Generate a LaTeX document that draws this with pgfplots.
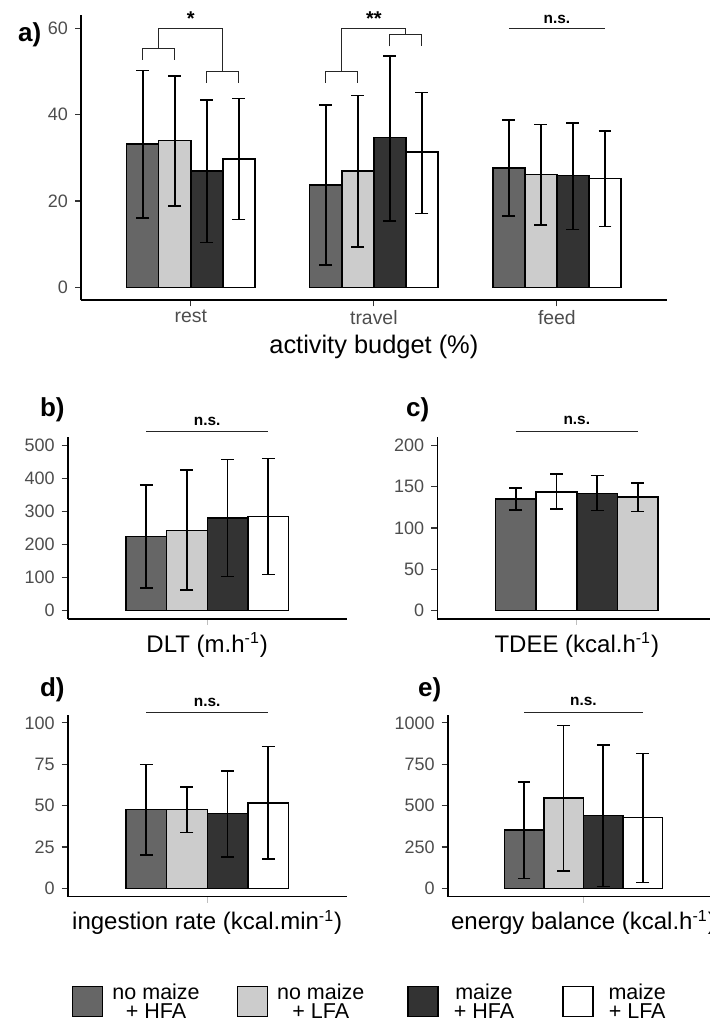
\documentclass[border=0pt]{standalone}
\usepackage{fontspec}
\setmainfont{Liberation Sans}
\usepackage{pgfplots}
\pgfplotsset{compat=1.18}
\usepackage{pgfplotstable}

\definecolor{cA}{HTML}{666666}
\definecolor{cB}{HTML}{CCCCCC}
\definecolor{cC}{HTML}{333333}
\definecolor{cD}{HTML}{FFFFFF}
\definecolor{tickgray}{HTML}{4D4D4D}

% ---------- panel a: activity budget ----------
\pgfplotstableread{
x y ep em
0.7375 33.2 17.0 17.2
1.7375 23.7 18.5 18.5
2.7375 27.6 11.1 11.1
}\aA
\pgfplotstableread{
x y ep em
0.9125 34.0 15.0 15.2
1.9125 26.9 17.5 17.6
2.9125 26.2 11.5 11.8
}\aB
\pgfplotstableread{
x y ep em
1.0875 26.9 16.5 16.5
2.0875 34.7 18.9 19.3
3.0875 25.9 12.2 12.5
}\aC
\pgfplotstableread{
x y ep em
1.2625 29.7 14.0 14.0
2.2625 31.3 13.8 14.2
3.2625 25.2 11.0 11.1
}\aD
% ---------- panel b: DLT ----------
\pgfplotstableread{
x y ep em
0.7375 223.6 156 155
}\bA
\pgfplotstableread{
x y ep em
0.9125 242.7 182 180
}\bB
\pgfplotstableread{
x y ep em
1.0875 280.0 177 176
}\bC
\pgfplotstableread{
x y ep em
1.2625 285.0 175 175
}\bD
% ---------- panel c: TDEE (bar order as in the figure) ----------
\pgfplotstableread{
x y ep em
0.7375 135.1 12.9 13.7
}\cA
\pgfplotstableread{
x y ep em
0.9125 143.5 21.8 20.9
}\cD
\pgfplotstableread{
x y ep em
1.0875 141.5 21.8 20.5
}\cC
\pgfplotstableread{
x y ep em
1.2625 137.5 16.9 17.7
}\cB
% ---------- panel d: ingestion rate ----------
\pgfplotstableread{
x y ep em
0.7375 47.6 27.3 27.4
}\dA
\pgfplotstableread{
x y ep em
0.9125 47.6 13.5 13.8
}\dB
\pgfplotstableread{
x y ep em
1.0875 45.1 25.8 26.3
}\dC
\pgfplotstableread{
x y ep em
1.2625 51.6 34.2 33.8
}\dD
% ---------- panel e: energy balance ----------
\pgfplotstableread{
x y ep em
0.7375 352.0 289.7 293.3
}\eA
\pgfplotstableread{
x y ep em
0.9125 546.6 437.2 441.3
}\eB
\pgfplotstableread{
x y ep em
1.0875 439.3 427.1 427.2
}\eC
\pgfplotstableread{
x y ep em
1.2625 427.1 386.7 390.7
}\eD

\pgfplotsset{
  common/.style={
    scale only axis,
    axis x line*=bottom, axis y line*=left,
    axis line style={line width=0.8pt, black},
    tick align=outside, major tick length=3pt,
    tick style={line width=0.6pt, color=cC},
    yticklabel style={font=\fontsize{9}{10}\selectfont, text=tickgray},
    /pgf/number format/assume math mode=true,
    /pgf/number format/1000 sep={},
    bar width=0.175,
    clip=false,
    xmin=0.4, xmax=1.6,
    error bars/y dir=both, error bars/y explicit,
    error bars/error bar style={line width=0.8pt, black},
    error bars/error mark options={rotate=90, line width=0.8pt, black, mark size=3.2pt},
    xlabel style={font=\fontsize{12}{14}\selectfont, at={(axis description cs:0.5,0)}, anchor=base, yshift=-16.6pt},
  },
  small/.style={common, width=139.5pt, height=91pt, xtick={1}, xticklabels={}, xtick style={color=black!25}},
  barA/.style={ybar, fill=cA, draw=black, line width=0.7pt},
  barB/.style={ybar, fill=cB, draw=black, line width=0.7pt},
  barC/.style={ybar, fill=cC, draw=black, line width=0.7pt},
  barD/.style={ybar, fill=cD, draw=black, line width=0.7pt},
}
\tikzset{
  br/.style={line width=0.5pt, black!85},
  ns/.style={font=\bfseries\fontsize{7.7}{9}\selectfont, anchor=base},
  pl/.style={anchor=base west, font=\bfseries\fontsize{13}{15}\selectfont},
}
\newcommand{\ent}[2]{\raisebox{4pt}{\begin{tabular}{@{}c@{}}#1\\[-2.5pt]#2\end{tabular}}}

\begin{document}
\begin{tikzpicture}
\useasboundingbox (0,0) rectangle (354.5pt,511.5pt);

% ---------------- a ----------------
\begin{axis}[common, at={(40.5pt,361.35pt)}, anchor=south west,
  width=292.85pt, height=142.5pt,
  xmin=0.4, xmax=3.6, ymin=-3, ymax=63,
  xtick={1,2,3}, xticklabels={rest,travel,feed},
  ytick={0,20,40,60},
  xticklabel style={font=\fontsize{9.7}{11}\selectfont, text=tickgray, yshift=1.5pt},
  xlabel={activity budget (\%)},
  xlabel style={font=\fontsize{12.7}{14}\selectfont, yshift=-10pt},
]
\addplot[barA] table[x=x, y=y, y error plus=ep, y error minus=em]{\aA};
\addplot[barB] table[x=x, y=y, y error plus=ep, y error minus=em]{\aB};
\addplot[barC] table[x=x, y=y, y error plus=ep, y error minus=em]{\aC};
\addplot[barD] table[x=x, y=y, y error plus=ep, y error minus=em]{\aD};
% rest
\draw[br] (axis cs:0.7375,52.65) -- (axis cs:0.7375,55.4) -- (axis cs:0.9125,55.4) -- (axis cs:0.9125,52.65);
\draw[br] (axis cs:1.0875,47.4) -- (axis cs:1.0875,50) -- (axis cs:1.2625,50) -- (axis cs:1.2625,47.4);
\draw[br] (axis cs:0.825,55.4) -- (axis cs:0.825,60) -- (axis cs:1.175,60) -- (axis cs:1.175,50);
\node[font=\bfseries\fontsize{10}{12}\selectfont, anchor=base, yshift=1.2pt] at (axis cs:1,60) {*};
% travel
\draw[br] (axis cs:1.7375,47.4) -- (axis cs:1.7375,50) -- (axis cs:1.9125,50) -- (axis cs:1.9125,47.4);
\draw[br] (axis cs:2.0875,55.8) -- (axis cs:2.0875,58.5) -- (axis cs:2.2625,58.5) -- (axis cs:2.2625,55.8);
\draw[br] (axis cs:1.825,50) -- (axis cs:1.825,60) -- (axis cs:2.175,60) -- (axis cs:2.175,58.5);
\node[font=\bfseries\fontsize{10}{12}\selectfont, anchor=base, yshift=1.2pt] at (axis cs:2,60) {**};
% feed
\draw[br] (axis cs:2.7375,60) -- (axis cs:3.2625,60);
\node[ns, yshift=2.5pt] at (axis cs:3,60) {n.s.};
\end{axis}

% ---------------- b ----------------
\begin{axis}[small, at={(33.85pt,202pt)}, anchor=south west,
  ymin=-25, ymax=525, ytick={0,100,...,500},
  xlabel={DLT (m.h\textsuperscript{-1})}]
\addplot[barA] table[x=x, y=y, y error plus=ep, y error minus=em]{\bA};
\addplot[barB] table[x=x, y=y, y error plus=ep, y error minus=em]{\bB};
\addplot[barC] table[x=x, y=y, y error plus=ep, y error minus=em]{\bC};
\addplot[barD] table[x=x, y=y, y error plus=ep, y error minus=em]{\bD};
\draw[br] (axis cs:0.7375,540.8) -- (axis cs:1.2625,540.8);
\node[ns, yshift=3.3pt] at (axis cs:1,540.8) {n.s.};
\end{axis}

% ---------------- c ----------------
\begin{axis}[small, at={(218.65pt,202pt)}, anchor=south west,
  ymin=-10, ymax=210, ytick={0,50,...,200},
  xlabel={TDEE (kcal.h\textsuperscript{-1})}]
\addplot[barA] table[x=x, y=y, y error plus=ep, y error minus=em]{\cA};
\addplot[barD] table[x=x, y=y, y error plus=ep, y error minus=em]{\cD};
\addplot[barC] table[x=x, y=y, y error plus=ep, y error minus=em]{\cC};
\addplot[barB] table[x=x, y=y, y error plus=ep, y error minus=em]{\cB};
\draw[br] (axis cs:0.7375,216.7) -- (axis cs:1.2625,216.7);
\node[ns, yshift=3.3pt] at (axis cs:1,216.7) {n.s.};
\end{axis}

% ---------------- d ----------------
\begin{axis}[small, at={(33.85pt,63.2pt)}, anchor=south west,
  ymin=-5, ymax=105, ytick={0,25,...,100},
  xlabel={ingestion rate (kcal.min\textsuperscript{-1})},
  legend columns=4,
  legend cell align=left,
  legend style={at={(axis description cs:0.0143,-0.578)}, anchor=west, draw=none, fill=none,
    inner sep=0pt, font=\fontsize{10.75}{12}\selectfont,
    /tikz/every odd column/.append style={column sep=2.5pt},
    /tikz/column 2/.style={column sep=16.5pt},
    /tikz/column 4/.style={column sep=19.5pt},
    /tikz/column 6/.style={column sep=22pt},
  },
  legend image code/.code={\draw[#1, line width=0.7pt] (0pt,-7.5pt) rectangle (15pt,7.5pt);},
]
\addplot[barA] table[x=x, y=y, y error plus=ep, y error minus=em]{\dA};
\addlegendentry{\ent{no maize}{+ HFA}}
\addplot[barB] table[x=x, y=y, y error plus=ep, y error minus=em]{\dB};
\addlegendentry{\ent{no maize}{+ LFA}}
\addplot[barC] table[x=x, y=y, y error plus=ep, y error minus=em]{\dC};
\addlegendentry{\hspace{3pt}\ent{maize}{+ HFA}}
\addplot[barD] table[x=x, y=y, y error plus=ep, y error minus=em]{\dD};
\addlegendentry{\hspace{3pt}\ent{maize}{+ LFA}}
\draw[br] (axis cs:0.7375,106) -- (axis cs:1.2625,106);
\node[ns, yshift=3.3pt] at (axis cs:1,106) {n.s.};
\end{axis}

% ---------------- e ----------------
\begin{axis}[small, at={(223.85pt,63.2pt)}, anchor=south west, width=135.75pt,
  ymin=-50, ymax=1050, ytick={0,250,...,1000},
  xlabel={energy balance (kcal.h\textsuperscript{-1})}]
\addplot[barA] table[x=x, y=y, y error plus=ep, y error minus=em]{\eA};
\addplot[barB] table[x=x, y=y, y error plus=ep, y error minus=em]{\eB};
\addplot[barC] table[x=x, y=y, y error plus=ep, y error minus=em]{\eC};
\addplot[barD] table[x=x, y=y, y error plus=ep, y error minus=em]{\eD};
\draw[br] (axis cs:0.7375,1062.8) -- (axis cs:1.2625,1062.8);
\node[ns, yshift=3.3pt] at (axis cs:1,1062.8) {n.s.};
\end{axis}

% panel letters
\node[pl] at (5.5pt,490.5pt) {a)};
\node[pl] at (16.5pt,303pt) {b)};
\node[pl] at (199.5pt,303pt) {c)};
\node[pl] at (16.5pt,163pt) {d)};
\node[pl] at (205.5pt,163pt) {e)};
\end{tikzpicture}
\end{document}
